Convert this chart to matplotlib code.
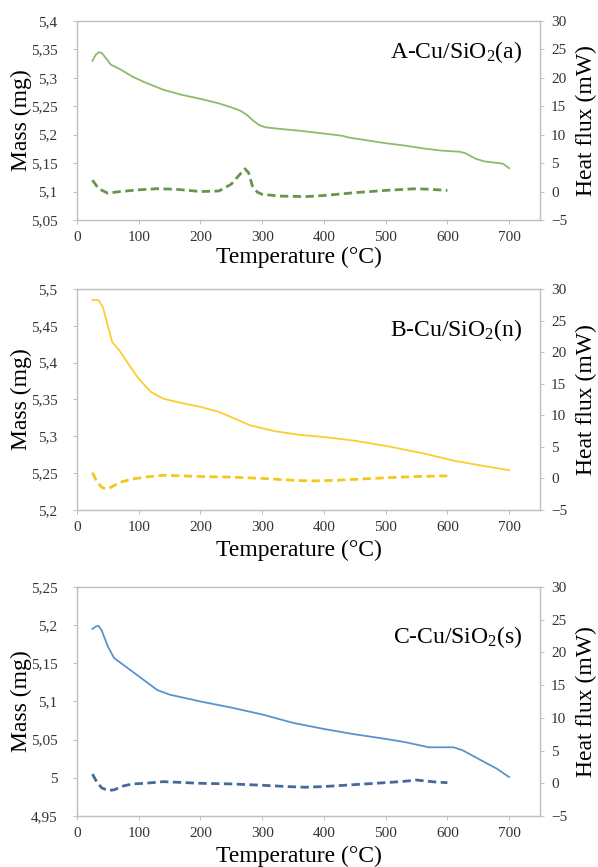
import matplotlib
matplotlib.use("Agg")
import matplotlib.pyplot as plt
from matplotlib.ticker import FuncFormatter, MultipleLocator

plt.rcParams['font.family'] = ['Liberation Serif', 'DejaVu Serif']
plt.rcParams['mathtext.fontset'] = 'custom'
plt.rcParams['mathtext.rm'] = 'Liberation Serif'
plt.rcParams['mathtext.it'] = 'Liberation Serif:italic'

# ---------------- data ----------------
# Panel A
a_mass_T = [25, 30, 35, 40, 45, 55, 70, 90, 110, 140, 170, 200, 230, 250, 265, 275, 285, 295, 305, 330, 360, 400, 430, 440, 470, 500, 530, 560, 590, 620, 630, 645, 660, 690, 700]
a_mass   = [5.330, 5.340, 5.345, 5.344, 5.337, 5.323, 5.315, 5.302, 5.292, 5.279, 5.270, 5.263, 5.255, 5.248, 5.242, 5.235, 5.225, 5.217, 5.213, 5.210, 5.207, 5.202, 5.198, 5.195, 5.190, 5.185, 5.181, 5.176, 5.172, 5.170, 5.167, 5.158, 5.153, 5.149, 5.141]
a_hf_T = [25, 35, 50, 70, 100, 130, 160, 200, 230, 250, 262, 272, 278, 284, 292, 300, 330, 370, 400, 450, 500, 550, 570, 600]
a_hf   = [2.0, 0.5, -0.3, 0.0, 0.3, 0.5, 0.4, 0.0, 0.1, 1.3, 2.8, 4.0, 3.3, 1.0, -0.1, -0.5, -0.8, -0.9, -0.7, -0.2, 0.2, 0.5, 0.4, 0.2]

# Panel B
b_mass_T = [25, 35, 42, 50, 57, 70, 85, 100, 120, 140, 170, 200, 230, 250, 280, 320, 360, 400, 450, 500, 560, 610, 650, 700]
b_mass   = [5.485, 5.485, 5.475, 5.450, 5.428, 5.415, 5.396, 5.378, 5.360, 5.351, 5.345, 5.340, 5.333, 5.326, 5.315, 5.307, 5.302, 5.299, 5.294, 5.287, 5.277, 5.267, 5.261, 5.254]
b_hf_T = [25, 32, 40, 47, 55, 70, 90, 110, 140, 200, 250, 300, 350, 380, 420, 460, 500, 550, 600]
b_hf   = [0.9, -0.5, -1.4, -1.7, -1.4, -0.6, -0.1, 0.2, 0.5, 0.3, 0.2, 0.0, -0.3, -0.4, -0.3, -0.1, 0.1, 0.3, 0.4]

# Panel C
c_mass_T = [25, 30, 35, 40, 50, 60, 80, 100, 130, 150, 200, 250, 300, 350, 400, 450, 500, 530, 570, 610, 625, 650, 680, 700]
c_mass   = [5.195, 5.198, 5.199, 5.193, 5.172, 5.157, 5.145, 5.133, 5.115, 5.109, 5.100, 5.092, 5.083, 5.072, 5.064, 5.057, 5.051, 5.047, 5.040, 5.040, 5.036, 5.025, 5.012, 5.001]
c_hf_T = [25, 32, 40, 50, 60, 75, 90, 110, 140, 200, 250, 300, 340, 370, 400, 450, 500, 530, 550, 580, 600]
c_hf   = [1.4, 0.2, -0.7, -1.1, -1.0, -0.4, -0.1, 0.0, 0.25, 0.0, -0.1, -0.3, -0.5, -0.6, -0.5, -0.2, 0.1, 0.3, 0.5, 0.2, 0.1]

x_ticks = [0, 100, 200, 300, 400, 500, 600, 700]

panels = [
    dict(label='A-Cu/SiO$_2$(a)', mT=a_mass_T, m=a_mass, hT=a_hf_T, h=a_hf,
         ylim=(5.05, 5.40), ystep=0.05, c1='#8dbb6a', c2='#65974a',
         pos=(0.1288, 0.7463, 0.7742, 0.2295), ty=0.845, xlab_y=0.7036),
    dict(label='B-Cu/SiO$_2$(n)', mT=b_mass_T, m=b_mass, hT=b_hf_T, h=b_hf,
         ylim=(5.20, 5.50), ystep=0.05, c1='#f9cf30', c2='#f5c71e',
         pos=(0.1288, 0.4118, 0.7742, 0.2549), ty=0.815, xlab_y=0.3656),
    dict(label='C-Cu/SiO$_2$(s)', mT=c_mass_T, m=c_mass, hT=c_hf_T, h=c_hf,
         ylim=(4.95, 5.25), ystep=0.05, c1='#5b93cc', c2='#45699a',
         pos=(0.1288, 0.0588, 0.7742, 0.2642), ty=0.78, xlab_y=0.0125),
]

def comma(v, p):
    s = ('%.2f' % v).rstrip('0').rstrip('.')
    return s.replace('.', ',')

fig = plt.figure(figsize=(5.98, 8.67), dpi=100)
grey = '#c0c0c0'
for P in panels:
    ax = fig.add_axes(P['pos'])
    ax.plot(P['mT'], P['m'], color=P['c1'], lw=1.3)
    ax.set_xlim(0, 750)
    ax.set_ylim(*P['ylim'])
    ax.set_xticks(x_ticks)
    ax.set_xticklabels([str(v) for v in x_ticks])
    ax.yaxis.set_major_locator(MultipleLocator(P['ystep']))
    ax.yaxis.set_major_formatter(FuncFormatter(comma))
    ax.set_ylabel('Mass (mg)', fontsize=17)
    ax.yaxis.set_label_coords(-0.098, 0.5)
    ax2 = ax.twinx()
    ax2.plot(P['hT'], P['h'], color=P['c2'], lw=2.0, ls=(0, (3, 1.6)))
    ax2.set_ylim(-5, 30)
    ax2.yaxis.set_major_locator(MultipleLocator(5))
    ax2.set_ylabel('Heat flux (mW)', fontsize=17, labelpad=6)
    for a in (ax, ax2):
        for s in a.spines.values():
            s.set_color(grey)
            s.set_linewidth(0.9)
        a.tick_params(axis='both', labelsize=11, labelcolor='#333333', length=3, width=0.7, color=grey)
    ax.tick_params(axis='y', pad=11)
    ax.tick_params(axis='x', pad=5)
    ax2.tick_params(axis='y', pad=5)
    ax.text(0.962, P['ty'], P['label'], transform=ax.transAxes, ha='right', va='center', fontsize=17)
    fig.text(0.5, P['xlab_y'], 'Temperature (\u00b0C)', ha='center', va='center', fontsize=17)

fig.savefig('out.png', dpi=100)
